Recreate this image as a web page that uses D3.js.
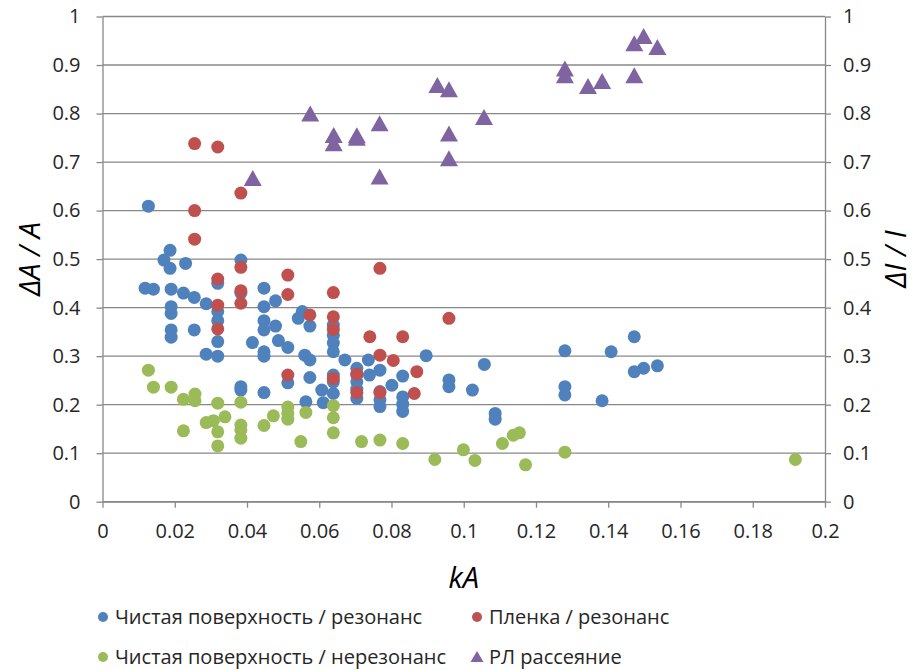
<!DOCTYPE html>
<html lang="ru">
<head>
<meta charset="UTF-8">
<title>kA scatter</title>
<script src="https://d3js.org/d3.v7.min.js"></script>
<style>
  body { margin: 0; background: #fff; }
  text { font-family: "Open Sans", "DejaVu Sans", sans-serif; }
</style>
</head>
<body>
<div id="chart"></div>
<script>
// series: Чистая поверхность / резонанс
var cleanResX = [0.0127,0.0118,0.0141,0.0170,0.0187,0.0187,0.0230,0.0190,0.0224,0.0254,0.0287,0.0319,0.0383,0.0383,0.0447,0.0479,0.0447,0.0319,0.0319,0.0190,0.0190,0.0190,0.0190,0.0254,0.0319,0.0287,0.0319,0.0447,0.0447,0.0479,0.0415,0.0447,0.0447,0.0487,0.0513,0.0542,0.0553,0.0574,0.0560,0.0574,0.0639,0.0639,0.0639,0.0639,0.0671,0.0704,0.0704,0.0704,0.0704,0.0704,0.0736,0.0739,0.0768,0.0768,0.0768,0.0768,0.0801,0.0831,0.0831,0.0831,0.0831,0.0896,0.0959,0.0959,0.1024,0.1057,0.1087,0.1087,0.128,0.128,0.128,0.1408,0.1383,0.1472,0.1472,0.1498,0.1536,0.0513,0.0574,0.0383,0.0383,0.0447,0.0607,0.0639,0.0639,0.0639,0.0563,0.0611];
var cleanResY = [0.609,0.440,0.438,0.498,0.518,0.481,0.491,0.438,0.430,0.421,0.408,0.450,0.498,0.430,0.440,0.414,0.402,0.392,0.373,0.402,0.388,0.354,0.339,0.354,0.330,0.304,0.300,0.373,0.354,0.362,0.328,0.309,0.300,0.332,0.318,0.378,0.392,0.362,0.302,0.292,0.364,0.343,0.327,0.309,0.292,0.275,0.261,0.247,0.232,0.213,0.292,0.261,0.271,0.227,0.210,0.196,0.240,0.259,0.216,0.201,0.186,0.301,0.251,0.237,0.230,0.283,0.182,0.170,0.311,0.237,0.220,0.309,0.208,0.340,0.268,0.275,0.280,0.245,0.256,0.237,0.230,0.225,0.230,0.261,0.247,0.223,0.206,0.204];

// series: Пленка / резонанс
var filmResX = [0.0255,0.0319,0.0383,0.0255,0.0255,0.0319,0.0383,0.0383,0.0383,0.0319,0.0319,0.0513,0.0513,0.0574,0.0639,0.0639,0.0639,0.0513,0.0639,0.0704,0.0704,0.0768,0.0768,0.0768,0.0740,0.0805,0.0831,0.0870,0.0863,0.0959];
var filmResY = [0.738,0.731,0.636,0.600,0.541,0.459,0.483,0.435,0.409,0.405,0.356,0.467,0.427,0.385,0.431,0.381,0.355,0.261,0.254,0.263,0.225,0.481,0.302,0.225,0.340,0.291,0.340,0.268,0.223,0.378];

// series: Чистая поверхность / нерезонанс
var cleanNonX = [0.0127,0.0141,0.0190,0.0224,0.0256,0.0256,0.0319,0.0383,0.0224,0.0287,0.0307,0.0339,0.0319,0.0319,0.0383,0.0383,0.0383,0.0447,0.0473,0.0513,0.0513,0.0513,0.0563,0.0549,0.0639,0.0639,0.0639,0.0717,0.0768,0.0831,0.0920,0.0999,0.1031,0.1107,0.1137,0.1154,0.1171,0.128,0.1918];
var cleanNonY = [0.271,0.236,0.236,0.211,0.222,0.208,0.203,0.205,0.146,0.163,0.167,0.175,0.144,0.115,0.158,0.148,0.131,0.157,0.177,0.195,0.182,0.170,0.184,0.124,0.198,0.173,0.142,0.124,0.127,0.120,0.087,0.107,0.085,0.120,0.137,0.142,0.076,0.102,0.087];

// series: РЛ рассеяние (right axis)
var radarX = [0.0416,0.0575,0.0640,0.0640,0.0704,0.0704,0.0767,0.0767,0.0927,0.0959,0.0959,0.0959,0.1056,0.128,0.128,0.1344,0.1383,0.1472,0.1498,0.1536,0.1472];
var radarY = [0.667,0.800,0.756,0.739,0.755,0.750,0.780,0.670,0.859,0.850,0.759,0.708,0.793,0.893,0.879,0.857,0.867,0.945,0.960,0.937,0.879];

var xTicks = [0,0.02,0.04,0.06,0.08,0.1,0.12,0.14,0.16,0.18,0.2];
var yTicks = [0,0.1,0.2,0.3,0.4,0.5,0.6,0.7,0.8,0.9,1];

var seriesNames = ["Чистая поверхность / резонанс", "Пленка / резонанс", "Чистая поверхность / нерезонанс", "РЛ рассеяние"];
var colors = ["#4F81BD", "#C0504D", "#9BBB59", "#8064A2"];

var width = 923, height = 670;
var margin = {left: 102.5, right: 98, top: 16.5, bottom: 168.3};
var gridColor = "#888";

var svg = d3.select("#chart").append("svg")
  .attr("width", width)
  .attr("height", height);

var x = d3.scaleLinear().domain([0, 0.2]).range([margin.left, width - margin.right]);
var yL = d3.scaleLinear().domain([0, 1]).range([height - margin.bottom, margin.top]);
var yR = d3.scaleLinear().domain([0, 1]).range([height - margin.bottom, margin.top]);

// horizontal gridlines
svg.append("g")
  .selectAll("line")
  .data(yTicks)
  .enter().append("line")
    .attr("x1", x(0)).attr("x2", x(0.2))
    .attr("y1", function(d) { return yL(d); })
    .attr("y2", function(d) { return yL(d); })
    .attr("stroke", gridColor)
    .attr("stroke-width", 1.3);

function styleAxis(g) {
  g.select(".domain").attr("stroke", gridColor).attr("stroke-width", 1.3);
  g.selectAll(".tick line").attr("stroke", gridColor).attr("stroke-width", 1.3);
  g.selectAll(".tick text")
    .attr("fill", "#262626")
    .style("font-size", "20px")
    .style("font-family", "'Open Sans', sans-serif");
}

svg.append("g")
  .attr("transform", "translate(0," + yL(0) + ")")
  .call(d3.axisBottom(x).tickValues(xTicks).tickSize(6).tickSizeOuter(0).tickPadding(16).tickFormat(d3.format("")))
  .call(styleAxis);

svg.append("g")
  .attr("transform", "translate(" + x(0) + ",0)")
  .call(d3.axisLeft(yL).tickValues(yTicks).tickSize(6).tickSizeOuter(0).tickPadding(16).tickFormat(d3.format("")))
  .call(styleAxis);

svg.append("g")
  .attr("transform", "translate(" + x(0.2) + ",0)")
  .call(d3.axisRight(yR).tickValues(yTicks).tickSize(6).tickSizeOuter(0).tickPadding(12).tickFormat(d3.format("")))
  .call(styleAxis);

// axis titles
svg.append("text")
  .attr("transform", "translate(40," + yL(0.5) + ") rotate(-90)")
  .attr("text-anchor", "middle")
  .style("font-size", "29px")
  .style("font-style", "italic")
  .text("ΔA / A");

svg.append("text")
  .attr("transform", "translate(906," + yR(0.5) + ") rotate(-90)")
  .attr("text-anchor", "middle")
  .style("font-size", "29px")
  .style("font-style", "italic")
  .text("ΔI / I");

svg.append("text")
  .attr("x", x(0.1))
  .attr("y", 588)
  .attr("text-anchor", "middle")
  .style("font-size", "29px")
  .style("font-style", "italic")
  .text("kA");

// triangle centred on its bounding box, like Excel markers
var triW = 18, triH = 16;
function triPath(cx, cy) {
  return "M" + cx + "," + (cy - triH / 2) + "L" + (cx + triW / 2) + "," + (cy + triH / 2) + "L" + (cx - triW / 2) + "," + (cy + triH / 2) + "Z";
}

function dots(xs, ys, color) {
  svg.append("g")
    .selectAll("circle")
    .data(xs)
    .enter().append("circle")
      .attr("cx", function(d) { return x(d); })
      .attr("cy", function(d, i) { return yL(ys[i]); })
      .attr("r", 6.5)
      .attr("fill", color);
}

dots(cleanResX, cleanResY, colors[0]);
dots(filmResX, filmResY, colors[1]);
dots(cleanNonX, cleanNonY, colors[2]);

svg.append("g")
  .selectAll("path")
  .data(radarX)
  .enter().append("path")
    .attr("d", function(d, i) { return triPath(x(d), yR(radarY[i])); })
    .attr("fill", colors[3]);

// legend
var legendPos = [[103, 617], [477, 617], [103, 657], [477, 657]];
var legend = svg.append("g");
seriesNames.forEach(function(name, i) {
  var p = legendPos[i];
  if (i == 3) {
    legend.append("path")
      .attr("d", "M" + p[0] + "," + (p[1] - 6) + "L" + (p[0] + 6.5) + "," + (p[1] + 5) + "L" + (p[0] - 6.5) + "," + (p[1] + 5) + "Z")
      .attr("fill", colors[i]);
  } else {
    legend.append("circle")
      .attr("cx", p[0]).attr("cy", p[1])
      .attr("r", 5)
      .attr("fill", colors[i]);
  }
  legend.append("text")
    .attr("x", p[0] + 12)
    .attr("y", p[1] + 7)
    .attr("fill", "#262626")
    .style("font-size", "20px")
    .text(name);
});
</script>
</body>
</html>
